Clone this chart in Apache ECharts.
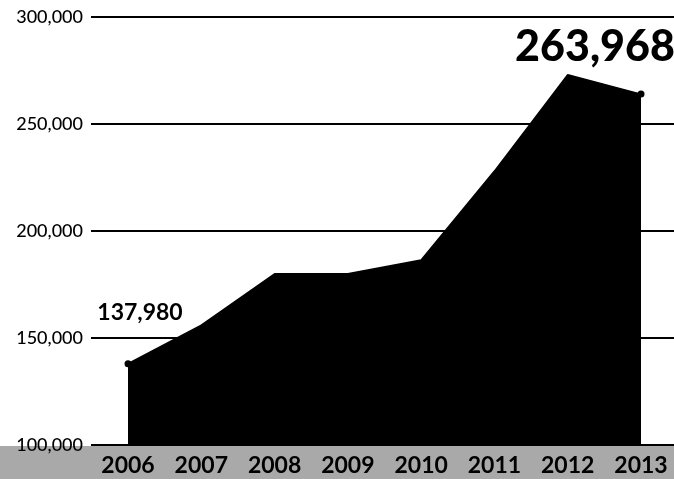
<!DOCTYPE html>
<html>
<head>
<meta charset="utf-8">
<script src="https://cdn.jsdelivr.net/npm/echarts@6/dist/echarts.min.js"></script>
<style>
html,body{margin:0;padding:0;background:#fff;}
#c{width:674px;height:479px;}
</style>
</head>
<body>
<div id="c"></div>
<script>
var years = ['2006','2007','2008','2009','2010','2011','2012','2013'];
var values = [137980, 156000, 180000, 180000, 186500, 228000, 273000, 263968];
var yTicks = [100000, 150000, 200000, 250000, 300000];

function fmt(v){ return Number(v).toLocaleString('en-US'); }

var chart = echarts.init(document.getElementById('c'));
var data = values.map(function(v, i){
  var item = { value: v };
  if (i === 0) {
    item.symbol = 'circle'; item.symbolSize = 7;
    item.label = { show: true, position: 'top', distance: 5, offset: [12, -31],
      formatter: function(p){ return fmt(p.value); },
      fontFamily: 'Lato', fontWeight: 'bold', fontSize: 23, color: '#000' };
  } else if (i === values.length - 1) {
    item.symbol = 'circle'; item.symbolSize = 7;
    item.label = { show: true, position: 'top', distance: 5, offset: [-46, -17],
      formatter: function(p){ return fmt(p.value); },
      fontFamily: 'Lato', fontWeight: 900, fontSize: 43, color: '#000' };
  } else {
    item.symbol = 'none';
  }
  return item;
});

var yMin = yTicks[0], yMax = yTicks[yTicks.length - 1];

chart.setOption({
  backgroundColor: '#fff',
  animation: false,
  graphic: [{
    type: 'rect', z: -10, silent: true,
    shape: { x: 0, y: 446, width: 674, height: 33 },
    style: { fill: '#a9a9a9' }
  }],
  grid: [
    { left: 128, right: 33, top: 17, bottom: 34, containLabel: false },
    { left: 91, right: 0, top: 17, bottom: 34, containLabel: false }
  ],
  xAxis: [{
    type: 'category', data: years, boundaryGap: false, gridIndex: 0,
    axisLine: { show: false },
    axisTick: { show: false },
    axisLabel: { color: '#000', fontFamily: 'Lato', fontWeight: 'bold', fontSize: 23, margin: 9 },
    splitLine: { show: false }
  }, {
    type: 'category', data: years, gridIndex: 1, show: false
  }],
  yAxis: [{
    type: 'value', min: yMin, max: yMax, interval: 50000, gridIndex: 0, show: false,
    splitLine: { show: false }
  }, {
    type: 'value', min: yMin, max: yMax, interval: 50000, gridIndex: 1,
    axisLine: { show: false }, axisTick: { show: false },
    axisLabel: { color: '#000', fontFamily: 'Lato', fontWeight: 500, fontSize: 18, margin: 8,
      formatter: function(v){ return fmt(v); } },
    splitLine: { show: true, lineStyle: { color: '#000', width: 2 } }
  }],
  series: [{
    type: 'line', data: data, symbol: 'none', smooth: false,
    xAxisIndex: 0, yAxisIndex: 0,
    lineStyle: { color: '#000', width: 1.5 },
    itemStyle: { color: '#000' },
    areaStyle: { color: '#000', opacity: 1, origin: 'start' },
    z: 5
  }]
});
</script>
</body>
</html>
